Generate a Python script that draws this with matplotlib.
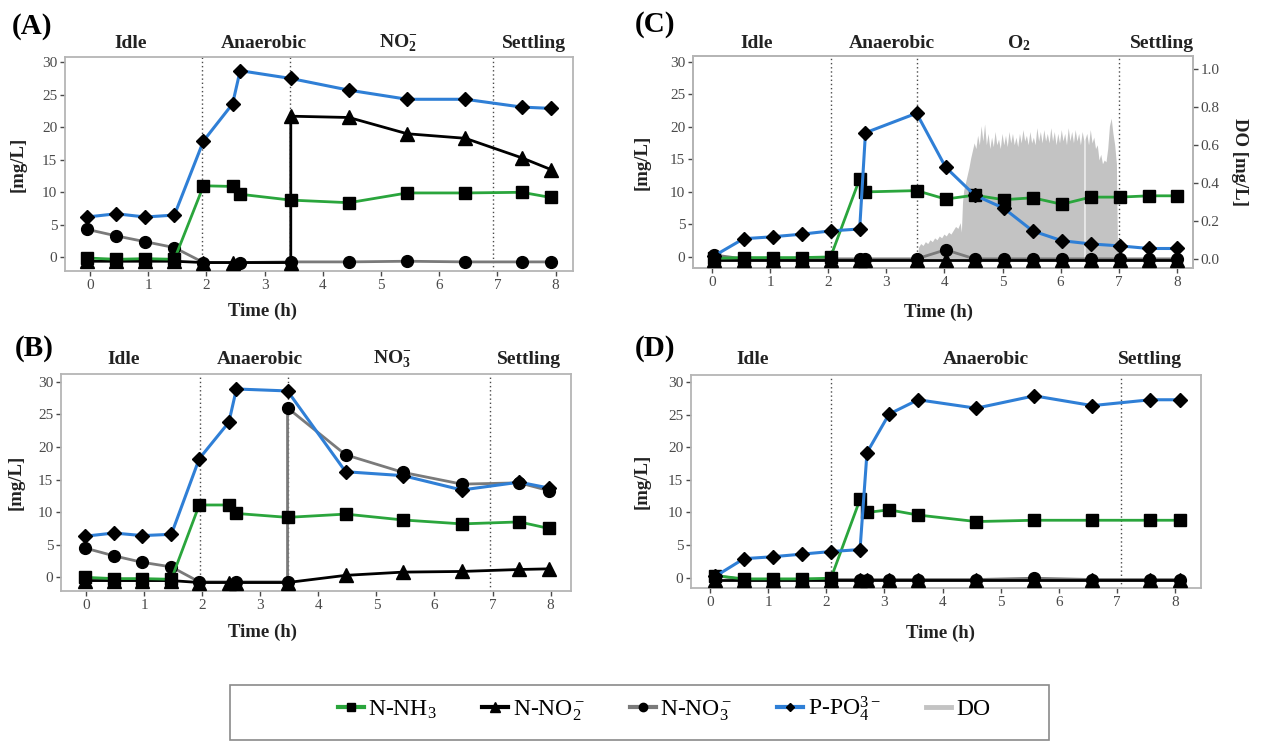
import numpy as np
import matplotlib
matplotlib.use("Agg")
import matplotlib.pyplot as plt
from matplotlib.lines import Line2D
from matplotlib.patches import Rectangle
import matplotlib.transforms as mtransforms

plt.rcParams['font.family'] = ['Liberation Serif', 'DejaVu Serif']
plt.rcParams['mathtext.fontset'] = 'custom'
plt.rcParams['mathtext.rm'] = 'Liberation Serif'
plt.rcParams['mathtext.it'] = 'Liberation Serif:italic'
plt.rcParams['mathtext.bf'] = 'Liberation Serif:bold'

# ---------------- data ----------------
# Panel A (NO2- phase)
tA = [-0.05, 0.45, 0.95, 1.45, 1.95, 2.45, 2.58, 3.45, 4.45, 5.45, 6.45, 7.42, 7.92]
A_po4 = [6.2, 6.7, 6.2, 6.5, 17.9, 23.6, 28.7, 27.5, 25.7, 24.3, 24.3, 23.1, 22.9]
A_nh3 = [-0.1, -0.3, -0.2, -0.3, 11.0, 10.9, 9.7, 8.8, 8.4, 9.9, 9.9, 10.0, 9.2]
tA_no2 = [-0.05, 0.45, 0.95, 1.45, 1.95, 2.45, 3.45, 3.45, 4.45, 5.45, 6.45, 7.42, 7.92]
A_no2 = [-0.6, -0.6, -0.6, -0.6, -0.8, -0.8, -0.8, 21.7, 21.5, 19.0, 18.3, 15.3, 13.5]
tA_no3 = [-0.05, 0.45, 0.95, 1.45, 1.95, 2.58, 3.45, 4.45, 5.45, 6.45, 7.42, 7.92]
A_no3 = [4.3, 3.3, 2.4, 1.5, -0.8, -0.8, -0.7, -0.7, -0.6, -0.7, -0.7, -0.7]
A_phases = [1.93, 3.43, 6.92]

# Panel B (NO3- phase)
tB = [-0.02, 0.48, 0.97, 1.47, 1.95, 2.46, 2.59, 3.47, 4.47, 5.46, 6.47, 7.46, 7.97]
B_po4 = [6.3, 6.8, 6.4, 6.6, 18.2, 23.8, 28.9, 28.6, 16.2, 15.6, 13.4, 14.6, 13.7]
B_nh3 = [0.0, -0.2, -0.2, -0.3, 11.1, 11.1, 9.8, 9.2, 9.7, 8.8, 8.2, 8.5, 7.5]
B_no2 = [-0.5, -0.5, -0.5, -0.5, -0.8, -0.8, -0.8, -0.8, 0.3, 0.8, 0.9, 1.2, 1.3]
tB_no3 = [-0.02, 0.48, 0.97, 1.47, 1.95, 2.59, 3.47, 3.47, 4.47, 5.46, 6.47, 7.46, 7.97]
B_no3 = [4.5, 3.3, 2.3, 1.6, -0.7, -0.7, -0.7, 26.0, 18.8, 16.1, 14.3, 14.5, 13.3]
B_phases = [1.97, 3.48, 6.96]

# Panel C (O2 phase)
tC = [0.04, 0.54, 1.04, 1.54, 2.04, 2.54, 2.64, 3.52, 4.02, 4.52, 5.02, 5.52, 6.02, 6.52, 7.02, 7.52, 8.0]
C_po4 = [0.2, 2.8, 3.1, 3.5, 4.0, 4.3, 19.1, 22.1, 13.8, 9.5, 7.5, 4.0, 2.5, 2.0, 1.7, 1.3, 1.3]
C_nh3 = [-0.2, -0.1, -0.1, -0.1, 0.0, 12.0, 10.0, 10.2, 8.9, 9.5, 8.8, 9.1, 8.1, 9.2, 9.2, 9.4, 9.4]
C_no2 = [-0.4, -0.4, -0.4, -0.4, -0.4, -0.4, -0.4, -0.4, -0.4, -0.4, -0.4, -0.4, -0.4, -0.4, -0.4, -0.4, -0.4]
C_no3 = [0.3, -0.3, -0.3, -0.3, -0.3, -0.3, -0.3, -0.3, 1.1, -0.3, -0.3, -0.3, -0.3, -0.3, -0.3, -0.3, -0.3]
C_phases = [2.04, 3.52, 7.0]
do_t = [3.55, 3.56, 3.60, 3.64, 3.68, 3.72, 3.76, 3.80, 3.84, 3.88, 3.92, 3.96, 4.00, 4.04,
        4.08, 4.12, 4.16, 4.20, 4.24, 4.28, 4.30, 4.32, 4.34, 4.37, 4.40, 4.43, 4.46, 4.49,
        4.52, 4.55, 4.58, 4.61, 4.64, 4.67, 4.70, 4.73, 4.76, 4.79, 4.82, 4.85, 4.88, 4.91,
        4.94, 4.97, 5.00, 5.03, 5.06, 5.09, 5.12, 5.15, 5.18, 5.21, 5.24, 5.27, 5.30, 5.33,
        5.36, 5.39, 5.42, 5.45, 5.48, 5.51, 5.54, 5.57, 5.60, 5.63, 5.66, 5.69, 5.72, 5.75,
        5.78, 5.81, 5.84, 5.87, 5.90, 5.93, 5.96, 5.99, 6.02, 6.05, 6.08, 6.11, 6.14, 6.17,
        6.20, 6.23, 6.26, 6.29, 6.32, 6.35, 6.38, 6.41, 6.42, 6.43, 6.46, 6.49, 6.52, 6.55,
        6.58, 6.61, 6.64, 6.67, 6.70, 6.73, 6.76, 6.79, 6.82, 6.85, 6.88, 6.91, 6.94, 6.97, 6.99]
do_v = [0.0, 0.06, 0.08, 0.07, 0.09, 0.08, 0.10, 0.09, 0.11, 0.10, 0.12, 0.11, 0.13, 0.12,
        0.14, 0.13, 0.15, 0.17, 0.16, 0.19, 0.14, 0.30, 0.36, 0.40, 0.44, 0.48, 0.53, 0.57,
        0.61, 0.58, 0.65, 0.60, 0.70, 0.62, 0.71, 0.60, 0.66, 0.58, 0.64, 0.59, 0.67, 0.60,
        0.63, 0.58, 0.66, 0.60, 0.65, 0.59, 0.67, 0.61, 0.66, 0.60, 0.64, 0.59, 0.66, 0.61,
        0.68, 0.62, 0.65, 0.60, 0.67, 0.61, 0.64, 0.60, 0.69, 0.62, 0.67, 0.61, 0.68, 0.62,
        0.66, 0.61, 0.69, 0.62, 0.67, 0.60, 0.66, 0.61, 0.68, 0.62, 0.66, 0.60, 0.69, 0.62,
        0.67, 0.61, 0.68, 0.62, 0.66, 0.60, 0.67, 0.62, np.nan, 0.63, 0.66, 0.60, 0.68, 0.61,
        0.64, 0.58, 0.60, 0.52, 0.55, 0.50, 0.52, 0.51, 0.58, 0.70, 0.74, 0.66, 0.60, 0.50, 0.0]

# Panel D (no aeration)
tD = [0.09, 0.58, 1.08, 1.58, 2.08, 2.58, 2.70, 3.08, 3.58, 4.58, 5.58, 6.58, 7.58, 8.08]
D_po4 = [0.2, 2.9, 3.2, 3.6, 4.0, 4.3, 19.2, 25.1, 27.3, 26.0, 27.9, 26.4, 27.3, 27.3]
D_nh3 = [0.3, -0.2, -0.2, -0.2, -0.1, 12.0, 10.0, 10.4, 9.6, 8.6, 8.8, 8.8, 8.8, 8.8]
D_no2 = [-0.4, -0.4, -0.4, -0.4, -0.4, -0.4, -0.4, -0.4, -0.4, -0.4, -0.4, -0.4, -0.4, -0.4]
D_no3 = [0.3, -0.3, -0.3, -0.3, -0.3, -0.3, -0.3, -0.3, -0.3, -0.3, -0.1, -0.3, -0.3, -0.3]
D_phases = [2.08, 7.08]

x_ticks = [0, 1, 2, 3, 4, 5, 6, 7, 8]
y_ticks = [0, 5, 10, 15, 20, 25, 30]
do_ticks = [0.0, 0.2, 0.4, 0.6, 0.8, 1.0]

# ---------------- style ----------------
C_GREEN = '#2aa53c'
C_BLUE = '#2f7fd6'
C_GRAYL = '#7a7a7a'
C_DO = '#c3c3c3'
SPINE = '#b5b5b5'
TICKC = '#4a4a4a'

fig = plt.figure(figsize=(12.7, 7.41), dpi=100)
W, H = 1270.0, 741.0

def ax_at(left, top, right, bottom):
    return fig.add_axes([left / W, 1 - bottom / H, (right - left) / W, (bottom - top) / H])

def style(ax, xlim, ylim):
    ax.set_xlim(*xlim)
    ax.set_ylim(*ylim)
    ax.set_xticks(x_ticks)
    ax.set_yticks(y_ticks)
    for s in ax.spines.values():
        s.set_color(SPINE)
        s.set_linewidth(1.3)
    ax.tick_params(axis='both', colors=TICKC, labelcolor=TICKC, labelsize=11,
                   length=3.5, width=1.0, pad=2)

def series(ax, t_nh3, nh3, t_no2, no2, t_no3, no3, t_po4, po4):
    ax.plot(t_no3, no3, color=C_GRAYL, lw=2.0, marker='o', ms=8.5, mfc='black', mec='black', zorder=3)
    ax.plot(t_no2, no2, color='black', lw=2.0, marker='^', ms=10, mfc='black', mec='black', zorder=4)
    ax.plot(t_nh3, nh3, color=C_GREEN, lw=2.0, marker='s', ms=8.5, mfc='black', mec='black', zorder=5)
    ax.plot(t_po4, po4, color=C_BLUE, lw=2.2, marker='D', ms=7, mfc='black', mec='black', zorder=6)

def vlines(ax, xs):
    for x in xs:
        ax.axvline(x, color='#4a4a4a', lw=1.0, ls=(0, (1, 2)), zorder=2)

def phase_labels(ax, labels, y):
    tr = mtransforms.blended_transform_factory(ax.transData, ax.transAxes)
    for x, s in labels:
        ax.text(x, y, s, transform=tr, ha='center', va='center', fontsize=14,
                fontweight='bold', color='#222222', clip_on=False)

def labels(ax, xl_x, xl_y, yl_x):
    ax.set_xlabel('Time (h)', fontsize=13.5, fontweight='bold', color='#222222')
    ax.xaxis.set_label_coords(xl_x, xl_y)
    ax.set_ylabel('[mg/L]', fontsize=13.5, fontweight='bold', color='#222222')
    ax.yaxis.set_label_coords(yl_x, 0.5)

# Panel A
axA = ax_at(65, 57, 573, 271)
style(axA, (-0.43, 8.3), (-2.1, 30.8))
vlines(axA, A_phases)
series(axA, tA, A_nh3, tA_no2, A_no2, tA_no3, A_no3, tA, A_po4)
phase_labels(axA, [(0.69, 'Idle'), (2.98, 'Anaerobic'),
                   (5.3, r'NO$_\mathbf{2}^\mathbf{-}$'), (7.63, 'Settling')], 1.065)
labels(axA, 0.388, -0.15, -0.075)

# Panel B
axB = ax_at(61, 374, 571, 591)
style(axB, (-0.43, 8.35), (-2.1, 31.2))
vlines(axB, B_phases)
series(axB, tB, B_nh3, tB, B_no2, tB_no3, B_no3, tB, B_po4)
phase_labels(axB, [(0.64, 'Idle'), (3.0, 'Anaerobic'),
                   (5.27, r'NO$_\mathbf{3}^\mathbf{-}$'), (7.62, 'Settling')], 1.069)
labels(axB, 0.395, -0.15, -0.072)

# Panel C
axC = ax_at(693, 56, 1193, 268)
axC2 = axC.twinx()
style(axC, (-0.33, 8.28), (-1.7, 30.9))
axC2.set_ylim(-0.046, 1.07)
axC2.set_yticks(do_ticks)
axC2.set_yticklabels(['%.1f' % v for v in do_ticks])
axC2.tick_params(axis='y', colors=TICKC, labelcolor=TICKC, labelsize=11, length=3.5, width=1.0, pad=2)
for s in axC2.spines.values():
    s.set_color(SPINE)
    s.set_linewidth(1.3)
axC2.fill_between(do_t, 0, do_v, color=C_DO, lw=0)
axC2.set_ylabel('DO [mg/L]', fontsize=13.5, fontweight='bold', color='#222222', rotation=270)
axC2.yaxis.set_label_coords(1.11, 0.5)
axC.set_zorder(axC2.get_zorder() + 1)
axC.patch.set_visible(False)
vlines(axC, C_phases)
series(axC, tC, C_nh3, tC, C_no2, tC, C_no3, tC, C_po4)
phase_labels(axC, [(0.77, 'Idle'), (3.1, 'Anaerobic'),
                   (5.28, r'O$_\mathbf{2}$'), (7.75, 'Settling')], 1.061)
labels(axC, 0.49, -0.17, -0.085)

# Panel D
axD = ax_at(691, 375, 1201, 588)
style(axD, (-0.33, 8.45), (-1.6, 31.1))
vlines(axD, D_phases)
series(axD, tD, D_nh3, tD, D_no2, tD, D_no3, tD, D_po4)
phase_labels(axD, [(0.73, 'Idle'), (4.75, 'Anaerobic'), (7.57, 'Settling')], 1.075)
labels(axD, 0.49, -0.17, -0.08)

# Panel letters
for x, y, s in [(12, 27, '(A)'), (15, 348, '(B)'), (635, 25, '(C)'), (635, 348, '(D)')]:
    fig.text(x / W, 1 - y / H, s, fontsize=21, fontweight='bold', ha='left', va='center')

# Legend
fig.patches.append(Rectangle((230 / W, 1 - 740 / H), (1049 - 230) / W, (740 - 685) / H,
                             transform=fig.transFigure, fill=False, edgecolor='#8a8a8a', lw=1.2))
handles = [
    Line2D([], [], color=C_GREEN, lw=3, marker='s', ms=6, mfc='black', mec='black'),
    Line2D([], [], color='black', lw=3, marker='^', ms=7, mfc='black', mec='black'),
    Line2D([], [], color=C_GRAYL, lw=3, marker='o', ms=6, mfc='black', mec='black'),
    Line2D([], [], color=C_BLUE, lw=3, marker='D', ms=4.5, mfc='black', mec='black'),
    Line2D([], [], color=C_DO, lw=3.5),
]
names = ['N-NH$_3$', 'N-NO$_2^-$', 'N-NO$_3^-$', 'P-PO$_4^{3-}$', 'DO']
fig.legend(handles, names, loc='center', bbox_to_anchor=(664 / W, 1 - 709 / H), ncol=5,
           frameon=False, fontsize=17, handlelength=1.1, handletextpad=0.2,
           columnspacing=1.9, borderaxespad=0)

fig.savefig('out.png', dpi=100)
